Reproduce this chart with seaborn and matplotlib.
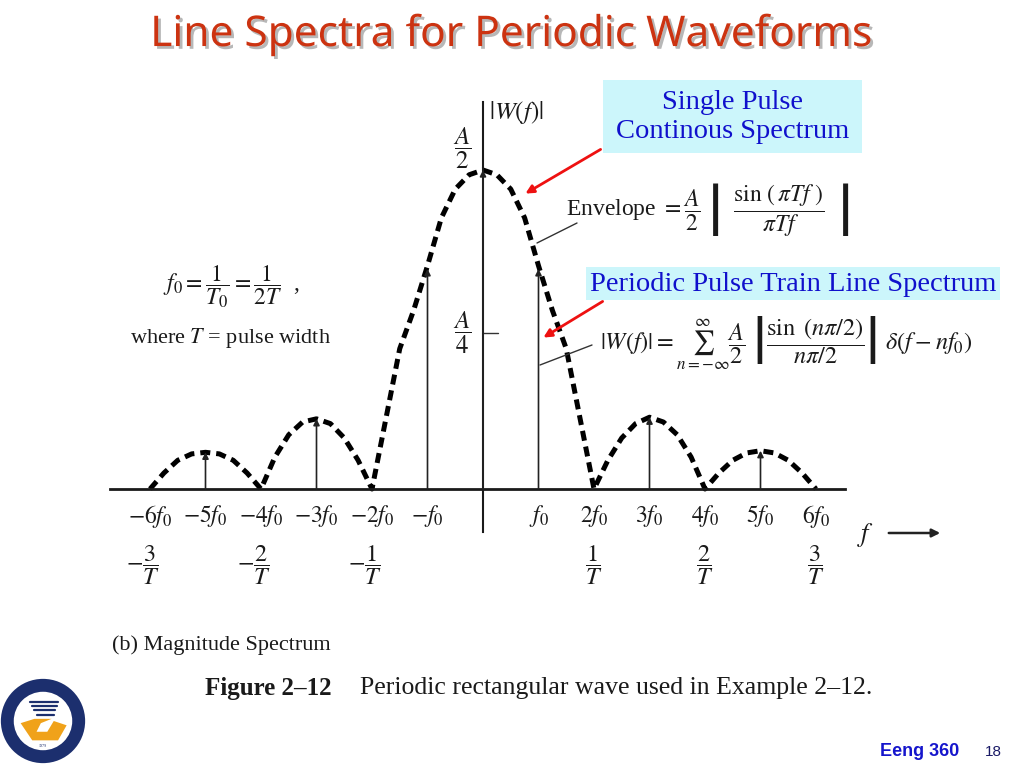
import numpy as np
import pandas as pd
import matplotlib
matplotlib.use("Agg")
import matplotlib.pyplot as plt
import seaborn as sns
from matplotlib import patheffects as pe
from matplotlib.patches import Circle, Polygon, Rectangle

# ---------------- data (in units of f0 and A/2) ----------------
harmonics = [-5, -3, -1, 0, 1, 3, 5]
line_heights = [0.115, 0.22, 0.69, 1.0, 0.69, 0.225, 0.12]

env_f = [-6.0, -5.75, -5.5, -5.25, -5.0, -4.75, -4.5, -4.25, -4.0,
         -3.75, -3.5, -3.25, -3.0, -2.75, -2.5, -2.25, -2.0,
         -1.75, -1.5, -1.25, -1.0, -0.75, -0.5, -0.25, 0.0,
         0.25, 0.5, 0.75, 1.0, 1.25, 1.5, 1.75, 2.0,
         2.25, 2.5, 2.75, 3.0, 3.25, 3.5, 3.75, 4.0,
         4.25, 4.5, 4.75, 5.0, 5.25, 5.5, 5.75, 6.0]
env_mag = [0.0, 0.05, 0.09, 0.11, 0.115, 0.11, 0.09, 0.05, 0.0,
           0.10, 0.17, 0.21, 0.22, 0.205, 0.16, 0.09, 0.0,
           0.22, 0.44, 0.56, 0.70, 0.85, 0.94, 0.985, 1.0,
           0.985, 0.94, 0.85, 0.70, 0.56, 0.44, 0.22, 0.0,
           0.09, 0.16, 0.205, 0.225, 0.21, 0.17, 0.10, 0.0,
           0.05, 0.09, 0.113, 0.12, 0.113, 0.09, 0.05, 0.0]

tick_pos = [-6, -5, -4, -3, -2, -1, 1, 2, 3, 4, 5, 6]
tick_labels = [r"$-6f_0$", r"$-5f_0$", r"$-4f_0$", r"$-3f_0$", r"$-2f_0$", r"$-f_0$",
               r"$f_0$", r"$2f_0$", r"$3f_0$", r"$4f_0$", r"$5f_0$", r"$6f_0$"]
period_pos = [-6, -4, -2, 2, 4, 6]
period_labels = [r"$-\dfrac{3}{T}$", r"$-\dfrac{2}{T}$", r"$-\dfrac{1}{T}$",
                 r"$\dfrac{1}{T}$", r"$\dfrac{2}{T}$", r"$\dfrac{3}{T}$"]

# ---------------- style ----------------
sns.set_theme(style="white")
plt.rcParams["font.family"] = ["Liberation Serif", "DejaVu Serif"]
plt.rcParams["mathtext.fontset"] = "stix"

W, H = 1024, 768
fig = plt.figure(figsize=(10.24, 7.68), dpi=100)
fig.patch.set_facecolor("white")


def fx(x):
    return x / W


def fy(y):
    return 1 - y / H


# main axes: x axis from px 110..845, vertical axis from px 102..532
ax = fig.add_axes([fx(110), fy(532), (845 - 110) / W, (532 - 102) / H])
ax.set_facecolor("none")
px_per_f = 55.5
x0_px, y0_px, px_per_unit = 483, 489, 319
ax.set_xlim((110 - x0_px) / px_per_f, (845 - x0_px) / px_per_f)
ax.set_ylim((y0_px - 532) / px_per_unit, (y0_px - 102) / px_per_unit)

for s in ["top", "right"]:
    ax.spines[s].set_visible(False)
ax.spines["bottom"].set_position(("data", 0))
ax.spines["left"].set_position(("data", 0))
ax.spines["bottom"].set_color("#1a1a1a")
ax.spines["bottom"].set_linewidth(2.0)
ax.spines["left"].set_color("#1a1a1a")
ax.spines["left"].set_linewidth(1.5)
ax.set_yticks([])
ax.set_xticks(tick_pos, tick_labels)
ax.tick_params(axis="x", length=0, pad=10, labelsize=17, colors="#1a1a1a")

# envelope
env_df = pd.DataFrame({"f": env_f, "mag": env_mag})
sns.lineplot(data=env_df, x="f", y="mag", ax=ax, color="black", lw=3.6,
             linestyle=(0, (2.0, 1.2)), solid_capstyle="butt", dash_capstyle="butt",
             sort=False, estimator=None)
ax.set_xlabel("")
ax.set_ylabel("")

# line spectrum
for n, h in zip(harmonics, line_heights):
    ax.annotate("", xy=(n, h), xytext=(n, 0),
                arrowprops=dict(arrowstyle="-|>", lw=1.2, color="#222222",
                                mutation_scale=9, shrinkA=0, shrinkB=0))

# 1/T labels
for p, lab in zip(period_pos, period_labels):
    ax.text(p + (-0.12 if p < 0 else 0.0), -0.24, lab, ha="center", va="center",
            fontsize=17.5, color="#1a1a1a")

# A/2 and A/4 labels with small tick
ax.text(-0.37, 1.07, r"$\dfrac{A}{2}$", ha="center", va="center", fontsize=18, color="#1a1a1a")
ax.text(-0.37, 0.49, r"$\dfrac{A}{4}$", ha="center", va="center", fontsize=18, color="#1a1a1a")
ax.plot([0, 0.27], [0.49, 0.49], color="#333333", lw=1.0)
ax.text(0.1, 1.18, r"$|W(f)|$", ha="left", va="center", fontsize=18, color="#1a1a1a")

# leader lines from formula labels to the plot
ax.plot([(577 - x0_px) / px_per_f, (537 - x0_px) / px_per_f],
        [(y0_px - 223) / px_per_unit, (y0_px - 243) / px_per_unit], color="#333333", lw=1.0)
ax.plot([(592 - x0_px) / px_per_f, (540 - x0_px) / px_per_f],
        [(y0_px - 345) / px_per_unit, (y0_px - 365) / px_per_unit], color="#333333", lw=1.0)

# ---------------- figure texts ----------------
fig.text(fx(511), fy(35), "Line Spectra for Periodic Waveforms", ha="center", va="center",
         fontsize=30.5, fontweight="bold", color="#cc3311", family=["Noto Sans", "DejaVu Sans"],
         path_effects=[pe.SimplePatchShadow(offset=(2, -2), shadow_rgbFace="#888888", alpha=0.6),
                       pe.Normal()])

# formulas
fig.text(fx(163), fy(287), r"$f_0 = \dfrac{1}{T_0} = \dfrac{1}{2T}$  ,", ha="left", va="center",
         fontsize=17, color="#1a1a1a")
fig.text(fx(130), fy(338), r"where $T$ = pulse width", ha="left", va="center",
         fontsize=16, color="#1a1a1a")
fig.text(fx(566), fy(211),
         r"Envelope $= \dfrac{A}{2}\ \left|\ \ \dfrac{\sin\,(\,\pi T f\ )}{\pi T f}\ \ \right|$",
         ha="left", va="center", fontsize=17, color="#1a1a1a")
fig.text(fx(600), fy(343),
         r"$|W(f)| = \sum_{n=-\infty}^{\infty}\dfrac{A}{2}\ \left|\dfrac{\sin\ (n\pi/2)}{n\pi/2}\right|\ \delta(f - nf_0)$",
         ha="left", va="center", fontsize=17.5, color="#1a1a1a")

# f arrow
fig.text(fx(866), fy(535), r"$f$", ha="center", va="center", fontsize=19, color="#1a1a1a")
fig.add_artist(matplotlib.patches.FancyArrowPatch(
    (fx(886), fy(533)), (fx(943), fy(533)), transform=fig.transFigure,
    arrowstyle="-|>", mutation_scale=12, lw=1.8, color="#222222"))

# captions
fig.text(fx(112), fy(645), "(b) Magnitude Spectrum", ha="left", va="center",
         fontsize=16, color="#1a1a1a")
fig.text(fx(205), fy(688), "Figure 2–12", ha="left", va="center", fontsize=18,
         fontweight="bold", color="#1a1a1a")
fig.text(fx(360), fy(688), "Periodic rectangular wave used in Example 2–12.", ha="left",
         va="center", fontsize=18.5, color="#1a1a1a")

# blue callout boxes
fig.add_artist(Rectangle((fx(603), fy(153)), (862 - 603) / W, (153 - 80) / H,
                         transform=fig.transFigure, facecolor="#ccf6fb", edgecolor="none"))
fig.text(fx(733), fy(117), "Single Pulse\nContinous Spectrum", ha="center", va="center",
         fontsize=20.5, color="#1010cc", linespacing=1.2)
fig.add_artist(Rectangle((fx(586), fy(300)), (1000 - 586) / W, (300 - 267) / H,
                         transform=fig.transFigure, facecolor="#ccf6fb", edgecolor="none"))
fig.text(fx(793), fy(284), "Periodic Pulse Train Line Spectrum", ha="center", va="center",
         fontsize=20.5, color="#1010cc")

# red arrows
for (xa, ya, xb, yb) in [(603, 148, 523, 195), (605, 300, 541, 339)]:
    fig.add_artist(matplotlib.patches.FancyArrowPatch(
        (fx(xa), fy(ya)), (fx(xb), fy(yb)), transform=fig.transFigure,
        arrowstyle="-|>", mutation_scale=12, lw=2.0, color="#ee1111"))

# footer
fig.text(fx(920), fy(751), "Eeng 360", ha="center", va="center", fontsize=13,
         fontweight="bold", color="#1515cc", family=["Liberation Sans", "DejaVu Sans"])
fig.text(fx(993), fy(752), "18", ha="center", va="center", fontsize=11,
         color="#1a1a66", family=["Liberation Sans", "DejaVu Sans"])

# logo (simplified)
lax = fig.add_axes([fx(0), fy(764), 86 / W, 86 / H])
lax.set_xlim(-1, 1)
lax.set_ylim(-1, 1)
lax.set_aspect("equal")
lax.axis("off")
lax.add_patch(Circle((0, 0), 0.98, facecolor="#1c2f6e", edgecolor="none"))
lax.add_patch(Circle((0, 0), 0.68, facecolor="white", edgecolor="none"))
lax.add_patch(Polygon([(-0.52, -0.05), (-0.25, -0.45), (0.35, -0.45), (0.55, -0.1),
                       (0.25, 0.0), (0.1, -0.25), (-0.15, -0.25), (-0.05, -0.05), (0.2, 0.05),
                       (-0.2, 0.05)], closed=True, facecolor="#f0a21a", edgecolor="none"))
for i, yy in enumerate([0.45, 0.35, 0.25, 0.15]):
    lax.plot([-0.3 + 0.05 * i, 0.35 - 0.03 * i], [yy, yy], color="#1c2f6e", lw=1.6)
lax.text(0, -0.58, "1979", ha="center", va="center", fontsize=3, color="#1c2f6e")

fig.savefig("out.png", dpi=100)
